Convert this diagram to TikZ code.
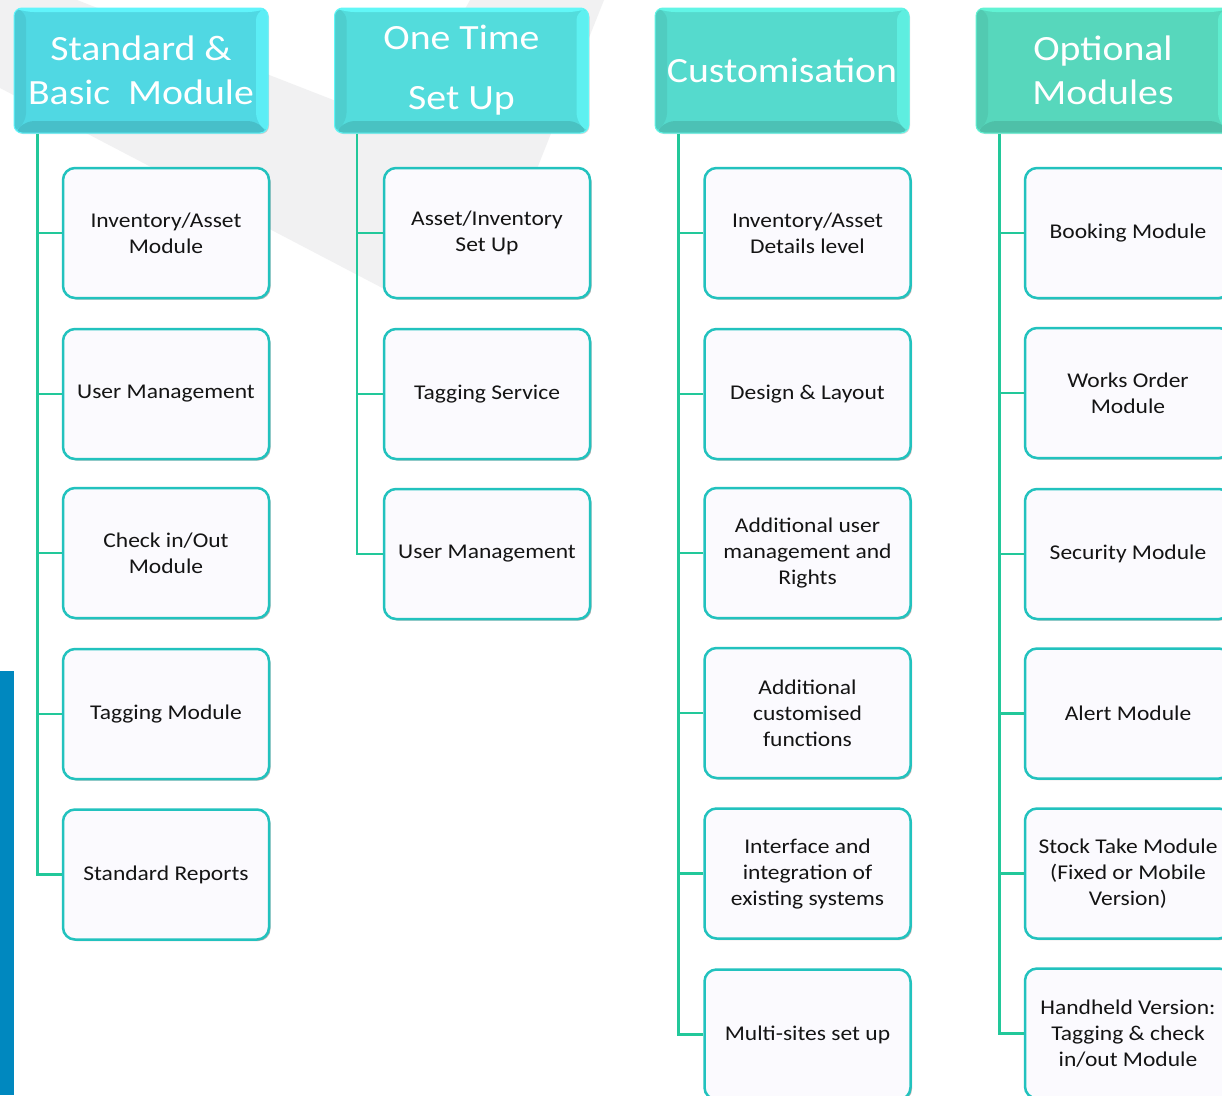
\documentclass[tikz,border=0pt]{standalone}
\usepackage{fontspec}
\setmainfont{Carlito}[FakeStretch=1.12]
\usetikzlibrary{shadows}
\definecolor{bggray}{HTML}{F1F1F2}
\definecolor{barblue}{HTML}{0088BF}
\definecolor{conncol}{HTML}{22C89A}
\definecolor{childfill}{HTML}{FBFAFE}
\definecolor{childborder}{HTML}{22C2BE}
\definecolor{hAface}{HTML}{50D8E3}\definecolor{hAdark}{HTML}{47BFC9}\definecolor{hAlight}{HTML}{60F4FB}
\definecolor{hBface}{HTML}{53DCDC}\definecolor{hBdark}{HTML}{49C2C2}\definecolor{hBlight}{HTML}{61F7F7}
\definecolor{hCface}{HTML}{55DACD}\definecolor{hCdark}{HTML}{4CC1B5}\definecolor{hClight}{HTML}{61F5E6}
\definecolor{hDface}{HTML}{57D7BC}\definecolor{hDdark}{HTML}{4EC0A8}\definecolor{hDlight}{HTML}{61F3D4}
\tikzset{
  childbox/.style={draw=childborder, line width=2.5pt, fill=childfill, rounded corners=12pt,
    minimum width=206pt, minimum height=130pt, inner sep=2pt, align=center,
    font=\fontsize{21}{26}\selectfont, text=black!92,
    drop shadow={shadow xshift=1.5pt, shadow yshift=-1.5pt, opacity=0.3, fill=black}},
  hdrbox/.style n args={3}{fill=#3, draw=#2, line width=1pt, rounded corners=8pt,
    minimum width=254pt, minimum height=125pt, inner sep=2pt, align=center, text=white,
    font=\fontsize{35.5}{44}\selectfont,
    drop shadow={shadow xshift=1pt, shadow yshift=-1pt, opacity=0.15, fill=black},
    path picture={
      \fill[#1!55!#3] (path picture bounding box.north west) -- ([xshift=12pt,yshift=-4pt]path picture bounding box.north west)
        -- ([xshift=12pt,yshift=12pt]path picture bounding box.south west) -- (path picture bounding box.south west) -- cycle;
      \fill[#1] (path picture bounding box.south west) -- ([xshift=12pt,yshift=12pt]path picture bounding box.south west)
        -- ([xshift=-12pt,yshift=12pt]path picture bounding box.south east) -- (path picture bounding box.south east) -- cycle;
      \fill[#2!75!#3] (path picture bounding box.north east) -- ([xshift=-12pt,yshift=-4pt]path picture bounding box.north east)
        -- ([xshift=-12pt,yshift=12pt]path picture bounding box.south east) -- (path picture bounding box.south east) -- cycle;
      \fill[#2] (path picture bounding box.north west) -- ([xshift=12pt,yshift=-4pt]path picture bounding box.north west)
        -- ([xshift=-12pt,yshift=-4pt]path picture bounding box.north east) -- (path picture bounding box.north east) -- cycle;
    }},
  conn/.style={draw=conncol, line width=2.5pt}
}
\begin{document}
\begin{tikzpicture}[x=1pt,y=-1pt]
\useasboundingbox (0,0) rectangle (1222,1095);
\clip (0,0) rectangle (1222,1095);
\fill[white] (0,0) rectangle (1222,1095);
% background check-mark shape
\fill[bggray] (0,0) -- (77,0) -- (400,126) -- (470,0) -- (604,0) -- (488,292) -- (390,292) -- (0,88) -- cycle;
% left blue bar
\fill[barblue] (0,671) rectangle (14,1095);

% headers
\node[hdrbox={hAdark}{hAlight}{hAface}] (h1) at (141,70.5) {Standard \&\\Basic~~Module};
\node[hdrbox={hBdark}{hBlight}{hBface}, font=\fontsize{35.5}{60}\selectfont] (h2) at (461.5,70.5) {One Time\\Set Up};
\node[hdrbox={hCdark}{hClight}{hCface}] (h3) at (782,70.5) {Customisation};
\node[hdrbox={hDdark}{hDlight}{hDface}] (h4) at (1103,70.5) {Optional\\Modules};

% column 1
\node[childbox] (a1) at (166,233) {Inventory/Asset\\Module};
\node[childbox] (a2) at (166,394) {User Management};
\node[childbox] (a3) at (166,553) {Check in/Out\\Module};
\node[childbox] (a4) at (166,714) {Tagging Module};
\node[childbox] (a5) at (166,874.5) {Standard Reports};
% column 2
\node[childbox] (b1) at (487,233) {Asset/Inventory\\Set Up};
\node[childbox] (b2) at (487,394) {Tagging Service};
\node[childbox] (b3) at (487,554) {User Management};
% column 3
\node[childbox] (c1) at (807.5,233) {Inventory/Asset\\Details level};
\node[childbox] (c2) at (807.5,394) {Design \& Layout};
\node[childbox] (c3) at (807.5,553) {Additional user\\management and\\Rights};
\node[childbox] (c4) at (807.5,713) {Additional\\customised\\functions};
\node[childbox] (c5) at (807.5,873.5) {Interface and\\integration of\\existing systems};
\node[childbox] (c6) at (807.5,1034.5) {Multi-sites set up};
% column 4
\node[childbox] (d1) at (1128,233) {Booking Module};
\node[childbox] (d2) at (1128,393) {Works Order\\Module};
\node[childbox] (d3) at (1128,554) {Security Module};
\node[childbox] (d4) at (1128,713.5) {Alert Module};
\node[childbox] (d5) at (1128,873.5) {Stock Take Module\\(Fixed or Mobile\\Version)};
\node[childbox] (d6) at (1128,1033.5) {Handheld Version:\\Tagging \& check\\in/out Module};

% trunk coordinates
\coordinate (t1) at ([xshift=24pt]h1.south west);
\coordinate (t2) at ([xshift=23pt]h2.south west);
\coordinate (t3) at ([xshift=24pt]h3.south west);
\coordinate (t4) at ([xshift=24pt]h4.south west);

% connectors
\draw[conn] (t1) |- (a5.west);
\foreach \n in {a1,a2,a3,a4} \draw[conn] (\n.west) -- (\n.west -| t1);
\draw[conn] (t2) |- (b3.west);
\foreach \n in {b1,b2} \draw[conn] (\n.west) -- (\n.west -| t2);
\draw[conn] (t3) |- (c6.west);
\foreach \n in {c1,c2,c3,c4,c5} \draw[conn] (\n.west) -- (\n.west -| t3);
\draw[conn] (t4) |- (d6.west);
\foreach \n in {d1,d2,d3,d4,d5} \draw[conn] (\n.west) -- (\n.west -| t4);
\end{tikzpicture}
\end{document}
